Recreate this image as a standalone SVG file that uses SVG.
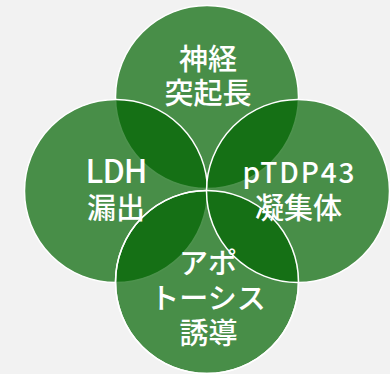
<svg xmlns="http://www.w3.org/2000/svg" width="390" height="374" viewBox="0 0 390 374">
<style>
.c{fill:#006400;fill-opacity:0.7;stroke:#ffffff;stroke-width:1.5}
.r{fill:none;stroke:#ffffff;stroke-width:1.5}
text{fill:#ffffff;font-family:"Noto Sans CJK JP","Noto Sans",sans-serif;font-size:29px;font-weight:500;text-anchor:middle}
.ldh{font-size:32px}
.tdp{font-size:28px}
</style>
<rect width="390" height="374" fill="#f2f2f2"/>
<g id="top"><circle class="c" cx="207" cy="97" r="91.5"/></g>
<g id="left"><circle class="c" cx="116" cy="191" r="91.5"/></g>
<g id="bottom"><circle class="c" cx="207" cy="282" r="91.5"/></g>
<g id="right"><circle class="c" cx="298" cy="191" r="91.5"/></g>
<g id="connectors"><circle class="r" cx="207" cy="282" r="91.5"/></g>
<g id="labels">
<text x="208" y="70">神経</text>
<text x="208" y="104">突起長</text>
<text class="ldh" x="116.5" y="183" textLength="62" lengthAdjust="spacing">LDH</text>
<text x="116" y="219">漏出</text>
<text class="tdp" x="298.5" y="183" textLength="112" lengthAdjust="spacing">pTDP43</text>
<text x="298.5" y="219">凝集体</text>
<text x="208" y="274">アポ</text>
<text x="208" y="309">トーシス</text>
<text x="208.5" y="344">誘導</text>
</g>
</svg>
